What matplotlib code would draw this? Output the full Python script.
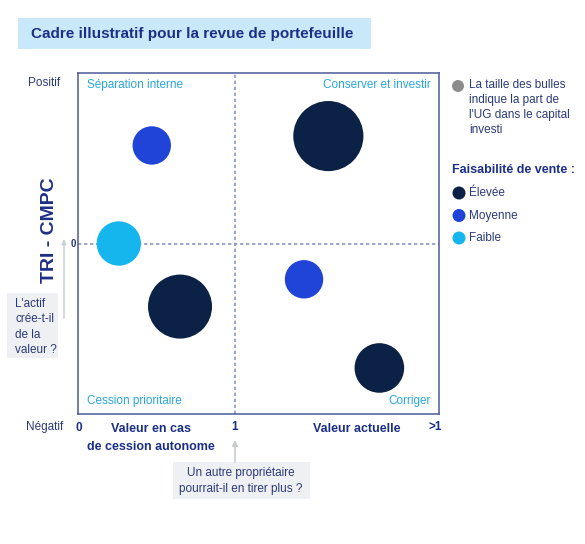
import matplotlib
matplotlib.use("Agg")
import matplotlib.pyplot as plt
from matplotlib.patches import Rectangle, Circle

plt.rcParams['font.family'] = ['Liberation Sans', 'DejaVu Sans']

# bubbles: x = value ratio, y = TRI - CMPC, share = % of invested capital
bubble_x = [0.47, 0.26, 0.65, 1.595, 1.44, 1.92]
bubble_y = [0.575, 0.0, -0.37, 0.63, -0.21, -0.73]
bubble_share = [9, 12, 25, 30, 9, 15]
bubble_feas = ["Moyenne", "Faible", "Élevée", "Élevée", "Moyenne", "Élevée"]

feas_levels = ["Élevée", "Moyenne", "Faible"]
feas_colors = {"Élevée": "#0b2145", "Moyenne": "#2144d8", "Faible": "#15b5ee"}

quadrant_labels = ["Séparation interne", "Conserver et investir",
                   "Cession prioritaire", "Corriger"]

NAVY = "#1c2f86"
TXT = "#2b3a78"
CYAN = "#29a8dc"

W, H = 585, 544
fig = plt.figure(figsize=(W / 100, H / 100), dpi=100)

# overlay in pixel coordinates for annotations
ov = fig.add_axes([0, 0, 1, 1])
ov.set_xlim(0, W)
ov.set_ylim(H, 0)
ov.axis("off")

# title
ov.add_patch(Rectangle((18, 18), 353, 31, color="#c9e9fb", lw=0))
ov.text(31, 34, "Cadre illustratif pour la revue de portefeuille", fontsize=11,
        fontweight="bold", color=NAVY, va="center", ha="left")

# main chart
ax = fig.add_axes([78 / W, 1 - 414 / H, (439 - 78) / W, (414 - 73) / H])
ax.set_facecolor("none")
ax.set_xlim(0, 2.3)
ax.set_ylim(-1, 1)
ax.set_xticks([])
ax.set_yticks([])
for sp in ax.spines.values():
    sp.set_color("#4a5a96")
    sp.set_linewidth(1.1)
ax.axvline(1, color="#8a9ac6", lw=1.2, ls=(0, (2, 1.6)), zorder=1)
ax.axhline(0, color="#8a9ac6", lw=1.2, ls=(0, (2, 1.6)), zorder=1)

ax.scatter(bubble_x, bubble_y, s=[v * 85 for v in bubble_share],
           c=[feas_colors[f] for f in bubble_feas], linewidths=0, zorder=3)

ax.text(0.025, 0.965, quadrant_labels[0], transform=ax.transAxes, fontsize=8.5,
        color=CYAN, ha="left", va="center")
ax.text(0.978, 0.965, quadrant_labels[1], transform=ax.transAxes, fontsize=8.5,
        color=CYAN, ha="right", va="center")
ax.text(0.025, 0.038, quadrant_labels[2], transform=ax.transAxes, fontsize=8.5,
        color=CYAN, ha="left", va="center")
ax.text(0.978, 0.038, quadrant_labels[3], transform=ax.transAxes, fontsize=8.5,
        color=CYAN, ha="right", va="center")

# y axis texts
ov.text(44, 83, "Positif", fontsize=8.5, color=TXT, ha="center", va="center")
ov.text(45, 427, "Négatif", fontsize=8.5, color=TXT, ha="center", va="center")
ov.text(73, 244, "0", fontsize=7, fontweight="bold", color=TXT, ha="center", va="center")
ov.text(49, 230, "TRI - CMPC", fontsize=14, fontweight="bold", color=NAVY,
        rotation=90, ha="center", va="center")

# x axis texts
ov.text(79, 428, "0", fontsize=8.5, fontweight="bold", color=NAVY, ha="center", va="center")
ov.text(151, 438, "Valeur en cas\nde cession autonome", fontsize=9, fontweight="bold",
        color=NAVY, ha="center", va="center", linespacing=1.6)
ov.text(235, 427, "1", fontsize=8.5, fontweight="bold", color=NAVY, ha="center", va="center")
ov.text(357, 429, "Valeur actuelle", fontsize=9, fontweight="bold", color=NAVY,
        ha="center", va="center")
ov.text(435, 427, ">1", fontsize=8.5, fontweight="bold", color=NAVY, ha="center", va="center")

# question boxes
ov.add_patch(Rectangle((7, 293), 51, 65, color="#eef0f4", lw=0))
ov.text(15, 327, "L'actif\ncrée-t-il\nde la\nvaleur ?", fontsize=8.5, color=TXT,
        ha="left", va="center", linespacing=1.35)
ov.annotate("", xy=(64, 239), xytext=(64, 318),
            arrowprops=dict(arrowstyle="-|>", color="#cfd2d6", lw=1.2,
                            mutation_scale=7, shrinkA=0, shrinkB=0))

ov.add_patch(Rectangle((173, 462), 137, 37, color="#eef0f4", lw=0))
ov.text(241, 481, "Un autre propriétaire\npourrait-il en tirer plus ?", fontsize=8.5,
        color=TXT, ha="center", va="center", linespacing=1.4)
ov.annotate("", xy=(235, 440), xytext=(235, 462),
            arrowprops=dict(arrowstyle="-|>", color="#c8cbd0", lw=1.2,
                            mutation_scale=8, shrinkA=0, shrinkB=0))

# legend
ov.add_patch(Circle((458, 86), 6, color="#8c8c8c", lw=0))
ov.text(469, 79, "La taille des bulles\nindique la part de\nl'UG dans le capital\ninvesti",
        fontsize=8.5, color=TXT, ha="left", va="top", linespacing=1.35)
ov.text(452, 170, "Faisabilité de vente :", fontsize=9, fontweight="bold", color=NAVY,
        ha="left", va="center")
for i, lvl in enumerate(feas_levels):
    yy = 193 + i * 22.5
    ov.add_patch(Circle((459, yy), 6.5, color=feas_colors[lvl], lw=0))
    ov.text(469, yy, lvl, fontsize=8.5, color=TXT, ha="left", va="center")

fig.savefig("out.png", dpi=100)
